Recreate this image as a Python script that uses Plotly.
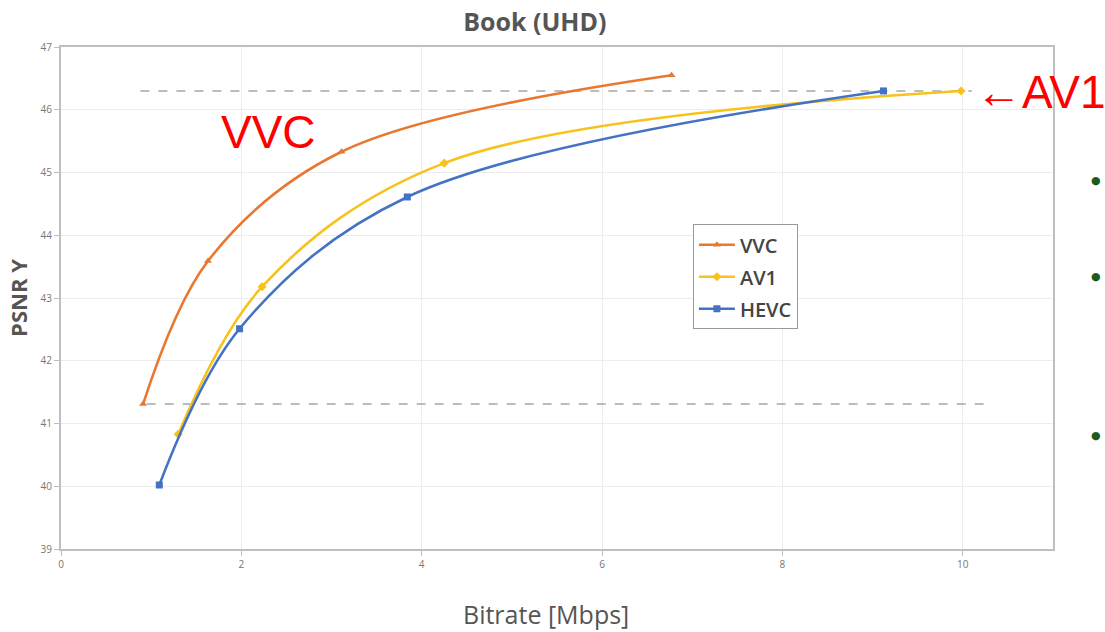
import plotly.graph_objects as go

# Data
vvc_x = [0.91, 1.63, 3.11, 6.77]
vvc_y = [41.31, 43.59, 45.33, 46.55]
av1_x = [1.30, 2.23, 4.25, 9.98]
av1_y = [40.83, 43.18, 45.15, 46.30]
hevc_x = [1.09, 1.98, 3.84, 9.12]
hevc_y = [40.02, 42.51, 44.61, 46.30]

ref_top_x = [0.88, 10.1]
ref_top_y = [46.3, 46.3]
ref_bot_x = [0.95, 10.25]
ref_bot_y = [41.31, 41.31]

x_ticks = [0, 2, 4, 6, 8, 10]
y_ticks = [39, 40, 41, 42, 43, 44, 45, 46, 47]

fig = go.Figure()

for rx, ry in [(ref_top_x, ref_top_y), (ref_bot_x, ref_bot_y)]:
    fig.add_trace(go.Scatter(x=rx, y=ry, mode="lines", showlegend=False,
                             hoverinfo="skip",
                             line=dict(color="#a6a6a6", width=1.5, dash="dash")))

series = [
    ("VVC", vvc_x, vvc_y, "#E8782F", "triangle-up"),
    ("AV1", av1_x, av1_y, "#F7C21B", "diamond"),
    ("HEVC", hevc_x, hevc_y, "#4472C4", "square"),
]
for name, xs, ys, col, sym in series:
    fig.add_trace(go.Scatter(x=xs, y=ys, mode="lines+markers", name=name,
                             legendgroup=name,
                             line=dict(color=col, width=2.6, shape="spline", smoothing=1.0),
                             marker=dict(color=col, symbol=sym, size=7)))

axis_common = dict(showline=True, linecolor="#bfbfbf", linewidth=2, mirror=True,
                   showgrid=True, gridcolor="#ececec", gridwidth=1,
                   ticks="outside", ticklen=5, tickcolor="#bfbfbf",
                   tickfont=dict(family="Open Sans", size=10, color="#777777"),
                   zeroline=False, automargin=False)

fig.update_xaxes(range=[0, 11], tickvals=x_ticks, **axis_common)
fig.update_yaxes(range=[39, 47], tickvals=y_ticks,
                 title=dict(text="<b>PSNR Y</b>", standoff=7,
                            font=dict(family="Open Sans", size=22, color="#555555")),
                 **axis_common)

fig.update_layout(
    width=1105, height=632,
    margin=dict(l=61, r=52, t=47, b=83, autoexpand=False),
    paper_bgcolor="white", plot_bgcolor="white",
    title=dict(text="<b>Book (UHD)</b>", x=0.484, xanchor="center", y=0.965, yanchor="middle",
               font=dict(family="Open Sans", size=25, color="#555555")),
    legend=dict(x=0.637, y=0.647, xanchor="left", yanchor="top",
                bordercolor="#999999", borderwidth=1, bgcolor="white",
                font=dict(family="Open Sans", size=20, color="#444444", weight=600),
                itemwidth=36, tracegroupgap=3),
    showlegend=True,
)

fig.add_annotation(text="Bitrate [Mbps]", xref="paper", yref="paper",
                   x=(546 - 61) / 992, y=-(614 - 549) / 502,
                   showarrow=False, xanchor="center", yanchor="middle",
                   font=dict(family="Open Sans", size=25, color="#555555"))
fig.add_annotation(text="VVC", xref="paper", yref="paper",
                   x=(268 - 61) / 992, y=(549 - 132) / 502,
                   showarrow=False, xanchor="center", yanchor="middle",
                   font=dict(family="Liberation Sans", size=46, color="#ff0000"))
fig.add_annotation(text="←AV1", xref="paper", yref="paper",
                   x=(974 - 61) / 992, y=(549 - 92) / 502,
                   showarrow=False, xanchor="left", yanchor="middle",
                   font=dict(family="Liberation Sans", size=46, color="#ff0000"))
for py in [180, 276, 435]:
    fig.add_annotation(text="●", xref="paper", yref="paper",
                       x=(1103 - 61) / 992, y=(549 - py) / 502,
                       showarrow=False, xanchor="right", yanchor="middle",
                       font=dict(family="DejaVu Sans", size=11, color="#1e5a1e"))

fig.write_html("out.html", config={"displayModeBar": False},
               post_script="document.body.style.margin='0';document.body.style.overflow='hidden';")
